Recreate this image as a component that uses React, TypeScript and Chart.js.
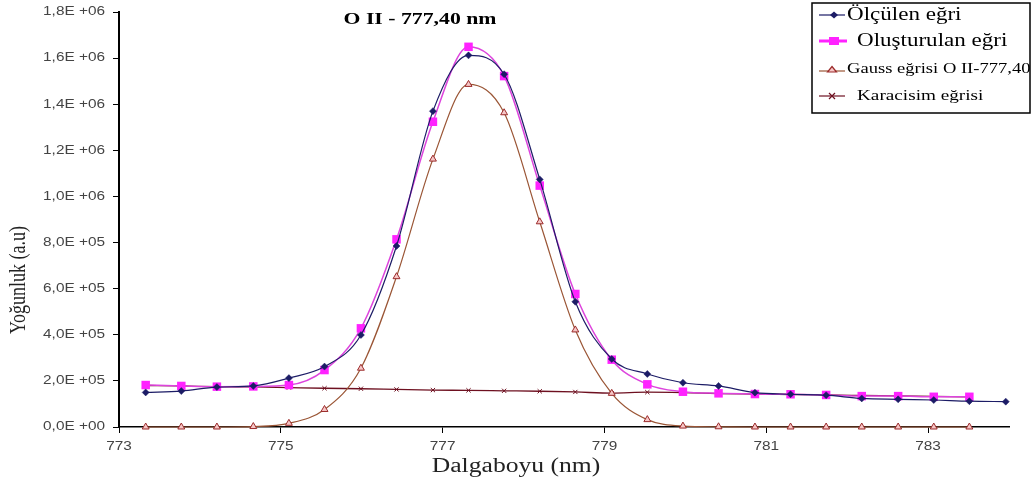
import { useEffect, useRef } from 'react';
import { Chart, registerables } from 'chart.js';

Chart.register(...registerables);

// ---- data ----
const wavelengths = [773.33, 773.77, 774.21, 774.66, 775.10, 775.54, 775.99, 776.43, 776.88, 777.32, 777.76, 778.20, 778.64, 779.09, 779.53, 779.97, 780.41, 780.86, 781.30, 781.74, 782.18, 782.63, 783.07, 783.51, 783.96];
const measured = [150000, 156000, 173000, 178000, 212000, 262000, 399000, 785000, 1370000, 1612000, 1530000, 1074000, 543000, 295000, 230000, 192000, 178000, 149000, 142000, 138000, 124000, 120000, 117000, 112000, 110000];
const synthesized = [182000, 178000, 175000, 176000, 182000, 247000, 428000, 814000, 1324000, 1649000, 1522000, 1047000, 577000, 292000, 185000, 153000, 146000, 143000, 142000, 139000, 134000, 134000, 131000, 131000];
const gauss = [0, 0, 0, 2000, 16000, 76000, 255000, 652000, 1162000, 1486000, 1363000, 890000, 421000, 146000, 32000, 4000, 1000, 0, 0, 0, 0, 0, 0, 0];
const blackbody = [180000, 178000, 175000, 174000, 171000, 168000, 166000, 163000, 160000, 159000, 157000, 155000, 152000, 147000, 151000, 149000, 145000, 143000, 141000, 139000, 137000, 135000, 133000, 131000];

const xTickValues = [773, 775, 777, 779, 781, 783];
const xTickLabels = ['773', '775', '777', '779', '781', '783'];
const yTickValues = [0, 200000, 400000, 600000, 800000, 1000000, 1200000, 1400000, 1600000, 1800000];
const yTickLabels = ['0,0E +00', '2,0E +05', '4,0E +05', '6,0E +05', '8,0E +05', '1,0E +06', '1,2E +06', '1,4E +06', '1,6E +06', '1,8E +06'];

const seriesNames = ['Ölçülen eğri', 'Oluşturulan eğri', 'Gauss eğrisi O II-777,40', 'Karacisim eğrisi'];
const chartTitle = 'O II - 777,40 nm';
const xTitle = 'Dalgaboyu (nm)';
const yTitle = 'Yoğunluk (a.u)';

const NAVY = '#1c1c66';
const PINK_LINE = '#dd44dd';
const PINK_FILL = '#ff22ff';
const GAUSS_LINE = '#9a5535';
const GAUSS_MARK = '#9b2b2b';
const GAUSS_FILL = '#f6c6c6';
const BB = '#6e1020';

const S = 1.28;

function toPts(vals: number[]) {
  return vals.map((v, i) => ({ x: wavelengths[i], y: v }));
}

function sText(ctx: CanvasRenderingContext2D, text: string, x: number, y: number, font: string, align: CanvasTextAlign, color: string) {
  ctx.save();
  ctx.translate(x, y);
  ctx.scale(S, 1);
  ctx.font = font;
  ctx.textAlign = align;
  ctx.textBaseline = 'middle';
  ctx.fillStyle = color;
  ctx.fillText(text, 0, 0);
  ctx.restore();
}

const overlay = {
  id: 'overlay',
  afterDraw(chart: any) {
    const ctx: CanvasRenderingContext2D = chart.ctx;
    const xs = chart.scales.x;
    const ys = chart.scales.y;
    yTickValues.forEach((v, i) => {
      sText(ctx, yTickLabels[i], 105, ys.getPixelForValue(v), '12px "Liberation Sans", Arial', 'right', '#444');
    });
    xTickValues.forEach((v, i) => {
      sText(ctx, xTickLabels[i], xs.getPixelForValue(v), 447, '12px "Liberation Sans", Arial', 'center', '#444');
    });
    sText(ctx, chartTitle, 420, 20, 'bold 17px "Liberation Serif", serif', 'center', '#000');
    sText(ctx, xTitle, 516, 467, '20px "Liberation Serif", serif', 'center', '#222');
    // y title rotated
    ctx.save();
    ctx.translate(19, 280);
    ctx.rotate(-Math.PI / 2);
    ctx.scale(1, S);
    ctx.font = '18px "Liberation Serif", serif';
    ctx.textAlign = 'center';
    ctx.textBaseline = 'middle';
    ctx.fillStyle = '#222';
    ctx.fillText(yTitle, 0, 0);
    ctx.restore();

    // legend
    ctx.save();
    ctx.fillStyle = '#fff';
    ctx.fillRect(812, 3, 218, 110);
    ctx.strokeStyle = '#000';
    ctx.lineWidth = 1.5;
    ctx.strokeRect(812, 3, 218, 110);
    ctx.restore();

    const rows = [15, 41, 69, 96];
    // row 1: navy diamond
    ctx.save();
    ctx.strokeStyle = NAVY; ctx.lineWidth = 1.2;
    ctx.beginPath(); ctx.moveTo(819, rows[0]); ctx.lineTo(845, rows[0]); ctx.stroke();
    ctx.fillStyle = NAVY;
    ctx.beginPath();
    ctx.moveTo(834, rows[0] - 3.5); ctx.lineTo(838, rows[0]); ctx.lineTo(834, rows[0] + 3.5); ctx.lineTo(830, rows[0]);
    ctx.closePath(); ctx.fill();
    // row 2: pink square
    ctx.strokeStyle = PINK_FILL; ctx.lineWidth = 3;
    ctx.beginPath(); ctx.moveTo(819, rows[1]); ctx.lineTo(847, rows[1]); ctx.stroke();
    ctx.fillStyle = PINK_FILL;
    ctx.fillRect(829, rows[1] - 4, 10, 8);
    // row 3: triangle
    ctx.strokeStyle = GAUSS_LINE; ctx.lineWidth = 1.2;
    ctx.beginPath(); ctx.moveTo(819, rows[2] + 2); ctx.lineTo(845, rows[2] + 2); ctx.stroke();
    ctx.fillStyle = GAUSS_FILL; ctx.strokeStyle = GAUSS_MARK;
    ctx.beginPath();
    ctx.moveTo(832, rows[2] - 2.5); ctx.lineTo(836.5, rows[2] + 3); ctx.lineTo(827.5, rows[2] + 3);
    ctx.closePath(); ctx.fill(); ctx.stroke();
    // row 4: cross
    ctx.strokeStyle = BB; ctx.lineWidth = 1.2;
    ctx.beginPath(); ctx.moveTo(819, rows[3]); ctx.lineTo(845, rows[3]); ctx.stroke();
    ctx.beginPath();
    ctx.moveTo(829, rows[3] - 3); ctx.lineTo(835, rows[3] + 3);
    ctx.moveTo(835, rows[3] - 3); ctx.lineTo(829, rows[3] + 3);
    ctx.stroke();
    ctx.restore();

    sText(ctx, seriesNames[0], 847, rows[0], '18px "Liberation Serif", serif', 'left', '#000');
    sText(ctx, seriesNames[1], 857, rows[1], '18px "Liberation Serif", serif', 'left', '#000');
    sText(ctx, seriesNames[2], 847, rows[2], '14.5px "Liberation Serif", serif', 'left', '#000');
    sText(ctx, seriesNames[3], 857, rows[3], '15px "Liberation Serif", serif', 'left', '#000');
  },
};

export default function App() {
  const ref = useRef<HTMLCanvasElement | null>(null);
  useEffect(() => {
    document.body.style.margin = '0';
    const canvas = ref.current;
    if (!canvas) return;
    const chart = new Chart(canvas, {
      type: 'line',
      data: {
        datasets: [
          {
            label: seriesNames[0],
            data: toPts(measured),
            borderColor: NAVY,
            backgroundColor: NAVY,
            borderWidth: 1.2,
            pointStyle: 'rectRot',
            pointRadius: 3.5,
            pointBorderWidth: 0.5,
            cubicInterpolationMode: 'monotone',
            order: 1,
          },
          {
            label: seriesNames[1],
            data: toPts(synthesized),
            borderColor: PINK_LINE,
            backgroundColor: PINK_FILL,
            pointBorderColor: PINK_FILL,
            borderWidth: 1.5,
            pointStyle: 'rect',
            pointRadius: 6,
            pointBorderWidth: 0,
            cubicInterpolationMode: 'monotone',
            order: 2,
          },
          {
            label: seriesNames[2],
            data: toPts(gauss),
            borderColor: GAUSS_LINE,
            backgroundColor: GAUSS_FILL,
            pointBorderColor: GAUSS_MARK,
            borderWidth: 1.2,
            pointStyle: 'triangle',
            pointRadius: 4,
            pointBorderWidth: 1,
            cubicInterpolationMode: 'monotone',
            order: 3,
          },
          {
            label: seriesNames[3],
            data: toPts(blackbody),
            borderColor: BB,
            backgroundColor: BB,
            pointBorderColor: BB,
            borderWidth: 1.3,
            pointStyle: 'crossRot',
            pointRadius: 3,
            pointBorderWidth: 1,
            cubicInterpolationMode: 'monotone',
            order: 4,
          },
        ],
      },
      options: {
        animation: false,
        responsive: false,
        maintainAspectRatio: false,
        clip: false as any,
        layout: { padding: { top: 12, right: 23, left: 0, bottom: 0 } },
        plugins: { legend: { display: false }, title: { display: false }, tooltip: { enabled: false } },
        scales: {
          x: {
            type: 'linear',
            min: 773,
            max: 784,
            afterBuildTicks: (scale: any) => {
              scale.ticks = xTickValues.map((v) => ({ value: v }));
            },
            afterFit: (scale: any) => {
              scale.height = 61;
            },
            ticks: { display: false },
            grid: { drawOnChartArea: false, drawTicks: true, tickLength: 6, color: '#000', lineWidth: 1 },
            border: { display: true, color: '#000', width: 1.5 },
          },
          y: {
            type: 'linear',
            min: 0,
            max: 1800000,
            afterBuildTicks: (scale: any) => {
              scale.ticks = yTickValues.map((v) => ({ value: v }));
            },
            afterFit: (scale: any) => {
              scale.width = 119;
            },
            ticks: { display: false },
            grid: { drawOnChartArea: false, drawTicks: true, tickLength: 6, color: '#000', lineWidth: 1 },
            border: { display: true, color: '#000', width: 2 },
          },
        },
      },
      plugins: [overlay],
    });
    return () => chart.destroy();
  }, []);
  return (
    <div style={{ width: 1032, height: 488, background: '#fff' }}>
      <canvas ref={ref} width={1032} height={488} style={{ display: 'block', width: 1032, height: 488 }} />
    </div>
  );
}
